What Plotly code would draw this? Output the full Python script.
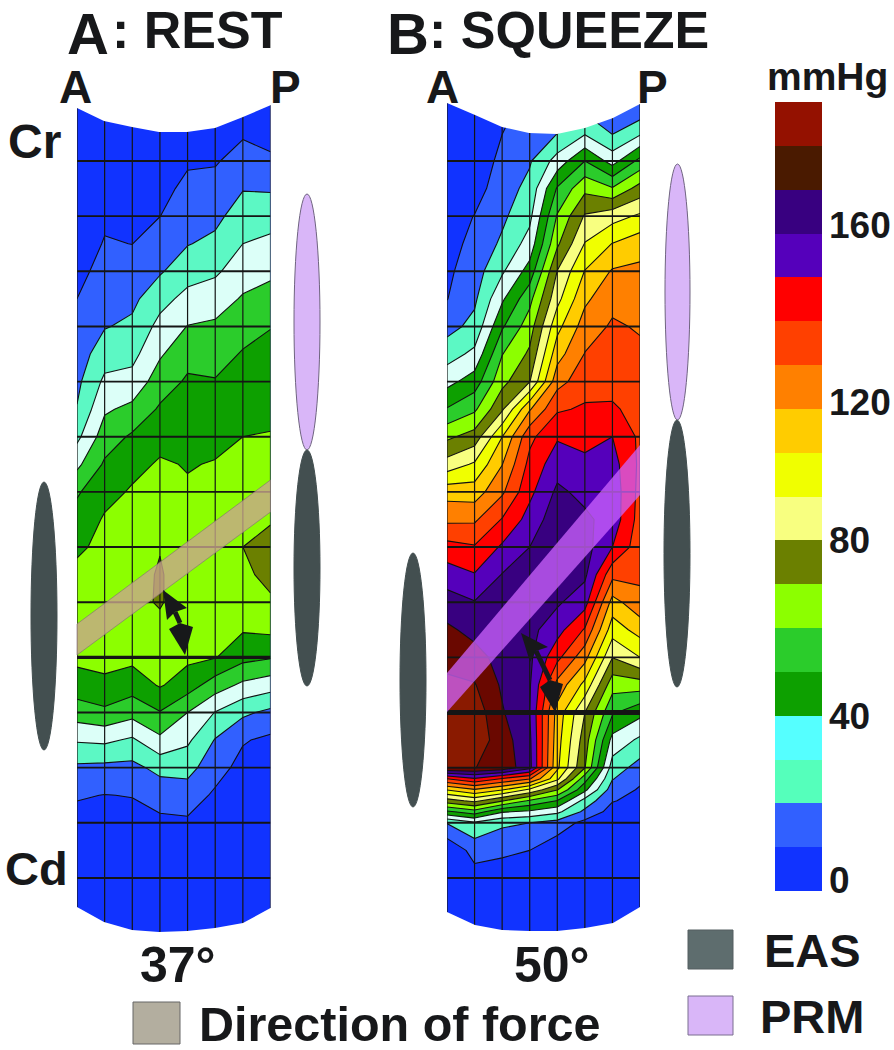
import plotly.graph_objects as go
import numpy as np

W, H = 894, 1050
FONT = "Liberation Sans"
INK = "#17181a"

# ---------- data ----------
columns = [0, 1, 2, 3, 4, 5, 6, 7]
grid_rows = list(range(14))
half_rows = [-1.1] + [i / 2 for i in range(-1, 23)]
rest_rows = half_rows + [11.5, 12, 12.5, 13, 13.5, 14]
squeeze_rows = half_rows + [11.2, 11.4, 11.6, 11.8, 12, 12.5, 13, 13.5, 14]

rest_by_col = [
    [3,3,3,3,4,5,7,10,12.5,15,17.7,20.5,27.5,37.7,48.8,53.8,58,63,65,65,62.5,55.4,45,31,18.2,10.8,7,5,3,3,3],
    [3,3,4,6,8.5,10.6,13.5,16.5,19.4,25.4,32,38.6,45,51.4,57,61,63,65,66,66,63,58,47.8,32,17.5,9.8,7,5,3,3,3],
    [3,3,4,5.5,7.5,9.9,13.7,17.7,22,27,33.5,42.5,51.5,57.4,61,63,65,66,67,66,62.5,54.5,43.5,28.5,17.2,10.3,7,5,3,3,3],
    [3,4,5.5,7.5,9.9,14.4,18.9,26.6,33,38.8,45,51.3,57.2,61,63,66,69.5,71,71,67,64,61,49.5,37.8,23,13.8,8,5,3,3,3],
    [6,7.5,9,12,15.7,19.5,26,33,40.3,46.7,51.4,54,56.8,59.5,61,62,63,64,64,64,62,55,40,31.8,23.6,14.8,8.5,6,3,3,3],
    [6,7.5,9.2,13,17.4,22.4,28.4,35.4,41.6,46.2,50.6,54,57.7,60.5,62,63,64,64,64,63,60.5,45,29.6,19.4,13.7,8.5,6,4,3,3,3],
    [7,9,13.5,19.5,25,30,35.5,41,46.3,50.8,54,57,60,63,65,67,70,67,65,60.8,53,38,22,10.8,7,5,3,3,3,3,3],
    [6,8,11,19,26,32.3,38,43.8,49.7,52.5,55.3,58,60.5,63,66,69,74,74,68,62,50.8,34.5,17.6,8,6,4,3,3,3,3,3],
]
squeeze_by_col = [
    [2,2,3,4,5,6,8,9.7,16.5,25.6,36.8,50.7,67.9,84.2,105.9,117.9,133.5,145,154.2,161.9,167,172,176,176,170.5,130,100.6,75.8,48,20.5,2,2,2,2],
    [2,3,4,6,10.3,13,15.5,18.2,22.9,32.4,44.8,58.2,74.3,91.4,104.9,118.4,130.9,140.6,150.5,156.9,163.7,170.7,176,176,170.2,139,109,82.6,55.5,28.4,13.6,6,4,3],
    [4,9.9,12.5,15.2,18,21.7,28.6,38.4,48.7,59.6,67,78.5,99.9,109.7,118.3,130.6,141.5,150.4,152.5,154.5,156.4,158.5,161,165,167,129.4,100.8,71,41,22,11.5,6,4,3],
    [14,16,19,23,27.5,34,44,57,65.3,71.8,79.6,109,127.5,133,137.5,144,150,154,155,153,152,151,150,152,153,121,88,58.6,38,20,10,6,4,3],
    [14,20,34,51,60.9,68.3,80.3,87,97,106,116.3,128.7,138.9,145.8,152,156,158,155,151.5,143.8,132.8,116.6,106,104,102,92.6,70.6,49.7,32.4,16,3,3,3,2],
    [14,29,50,67.5,81,90.5,100.4,108,114.6,120.4,125.8,131.3,137,142.2,147.3,152,154,152,144,129,113.4,97,80,75,70.5,54,42.5,26.2,17.7,7,4,3,3,2],
    [10,19.5,36,61,86,100.3,111,117,121.4,124.5,127.5,131,140,144,146,146,140,123,106.3,94.6,80.3,64,51.4,36.7,25.3,20.6,15,10.6,6,4,3,3,2,2],
    [8,28.4,53,74,91.7,105.6,112.3,116,119,122,125,127.5,128,128,127,126,124,122,117,104,90,65,43,28,16,12,9,7,6,5,4,3,2,2],
]
scale_bands = [5,15,25,35,45,55,65,75,85,95,105,115,125,135,145,155,165,175]
scale_colors = ["#1133ff","#3160ff","#55ffbb","#55ffff","#0da000","#2bcc2b","#8cff00","#6b8000",
                "#f8ff80","#f0ff00","#ffcc00","#ff8000","#ff4000","#ff0000","#5500bb","#380080","#4a1a00","#941100"]
squeeze_colors = ["#1133ff","#3160ff","#5cf8c4","#dcfff8","#0da000","#2bcc2b","#8cff00","#6b8000",
                  "#f8ff80","#f0ff00","#ffcc00","#ff8000","#ff4000","#ff0000","#5500bb","#380080","#6a0800","#8a1a00"]
rest_colors = list(squeeze_colors)
rest_colors[4], rest_colors[5] = "#2bcc2b", "#0da000"
scale_tick_pos = [0.25, 4.0, 8.0, 11.15, 15.2]
scale_tick_text = ["0", "40", "80", "120", "160"]

# ---------- helpers ----------
def px(x): return x / W
def py(y): return 1 - y / H
def rowpx(r): return 161 + 55.15 * r

def steps(colors):
    n = len(colors)
    out = []
    for i, c in enumerate(colors):
        out += [[i / n, c], [(i + 1) / n, c]]
    return out

def contour(zcols, rows, colors, xa, ya):
    return go.Contour(
        x=columns, y=rows, z=np.array(zcols).T.tolist(),
        xaxis=xa, yaxis=ya, colorscale=steps(colors), zmin=0, zmax=180,
        autocontour=False, contours=dict(start=0, end=180, size=10, coloring="fill", showlines=True),
        line=dict(color="#111111", width=1.1, smoothing=0), showscale=False, hoverinfo="skip",
    )

fig = go.Figure()
fig.add_trace(contour(rest_by_col, rest_rows, rest_colors, "x", "y"))
fig.add_trace(contour(squeeze_by_col, squeeze_rows, squeeze_colors, "x2", "y2"))
fig.add_trace(go.Heatmap(
    x=[0], y=list(range(18)), z=[[v] for v in scale_bands], xaxis="x3", yaxis="y3",
    colorscale=steps(scale_colors), zmin=0, zmax=180, showscale=False, hoverinfo="skip"))

shapes = []
def poly(pts, fill, line=None, lw=0):
    d = "M " + " L ".join(f"{px(a):.5f},{py(b):.5f}" for a, b in pts) + " Z"
    shapes.append(dict(type="path", path=d, xref="paper", yref="paper", fillcolor=fill, layer="above",
                       line=dict(color=line or "rgba(0,0,0,0)", width=lw)))
def ell(x0, x1, y0, y1, fill, line):
    shapes.append(dict(type="circle", xref="paper", yref="paper", x0=px(x0), x1=px(x1), y0=py(y1), y1=py(y0),
                       fillcolor=fill, line=dict(color=line, width=1), layer="above"))
def box(x0, x1, y0, y1, fill, line):
    shapes.append(dict(type="rect", xref="paper", yref="paper", x0=px(x0), x1=px(x1), y0=py(y1), y1=py(y0),
                       fillcolor=fill, line=dict(color=line, width=1), layer="above"))
def seg(x0, y0, x1, y1, w, color="#111111"):
    shapes.append(dict(type="line", xref="paper", yref="paper", x0=px(x0), y0=py(y0), x1=px(x1), y1=py(y1),
                       line=dict(color=color, width=w), layer="above"))

def grid(xa, ya, heavy, heavy_w, w):
    for c in columns:
        shapes.append(dict(type="line", xref=xa, yref=ya, x0=c, x1=c, y0=-1.1, y1=14,
                           line=dict(color="#151515", width=1.2), layer="above"))
    for r in grid_rows:
        shapes.append(dict(type="line", xref=xa, yref=ya, x0=0, x1=7, y0=r, y1=r,
                           line=dict(color="#151515", width=heavy_w if r == heavy else w), layer="above"))
grid("x", "y", 9, 3.2, 1.9)
grid("x2", "y2", 10, 5, 1.9)

# curved white ends of the two maps
poly([(70,90),(70,108),(77,108),(104,121),(132,127),(159,132),(187,132),(215,128),(243,117),(271,105),(278,105),(278,90)], "white")
poly([(70,945),(70,907),(77,907),(104,922),(132,930),(159,932),(187,931),(215,928),(243,923),(270.5,908),(278,908),(278,945)], "white")
poly([(440,90),(440,103),(447,103),(475,115),(502,127),(529,133),(557,134),(585,128),(613,118),(640,104),(647,104),(647,90)], "white")
poly([(440,945),(440,912),(447,912),(475,925),(502,930),(529,931),(557,931),(585,928),(613,923),(640,907),(647,907),(647,945)], "white")

# direction of force bands
poly([(77,624),(270.5,480),(270.5,512),(77,655)], "rgba(200,165,140,0.8)", "rgba(130,110,120,0.8)", 0.8)
poly([(447,673),(640,445),(640,495),(447,712)], "rgba(205,100,255,0.75)")

# double arrows
for (a, b, c, d, e, f, g, h) in [
    ((163,590),(187,608),(175,612),(167,620),(185,655),(169,629),(193,627),(180,623)),
    ((521,633),(548,647),(536,651),(530,662),(555,712),(540,687),(563,684),(550,680)),
]:
    poly([a, b, c, d], "#17181a")
    poly([e, f, h, g], "#17181a")
    seg(c[0], c[1], h[0], h[1], 5, "#17181a")

# sphincter ellipses
ell(294, 320, 194, 450, "#d9b6f8", "#6f6480")
ell(294, 320, 450, 686, "#434f50", "#434f50")
ell(31, 57, 482, 750, "#434f50", "#434f50")
ell(665, 690, 164, 420, "#d9b6f8", "#6f6480")
ell(664, 690, 420, 687, "#434f50", "#434f50")
ell(400, 426, 553, 807, "#434f50", "#434f50")

# legend boxes
box(688, 733, 930, 969, "#5e6d6e", "#555f60")
box(688, 733, 996, 1035, "#d9b6f8", "#7a6f90")
box(133, 180, 1002, 1044, "#b3ae9f", "#666666")

notes = []
def label(text, x, y, size, anchor="left"):
    notes.append(dict(text=f"<b>{text}</b>", x=px(x), y=py(y), xref="paper", yref="paper", showarrow=False,
                      xanchor=anchor, yanchor="middle", xshift=0, font=dict(family=FONT, size=size, color=INK)))

label("A", 65, 33.5, 58)
label(": REST", 110, 30, 52)
label("B", 385, 33.5, 58)
label(": SQUEEZE", 427, 30, 52)
label("A", 57, 87, 46)
label("P", 268, 87, 46)
label("A", 424, 87, 46)
label("P", 635, 87, 46)
label("Cr", 6, 141, 48)
label("Cd", 3, 868, 47)
label("37°", 138, 965, 50)
label("50°", 512, 965, 50)
label("Direction of force", 197, 1024, 48.5)
label("mmHg", 765, 76, 39)
label("EAS", 762, 950, 47)
label("PRM", 758, 1016, 47)

hidden = dict(visible=False, showgrid=False, zeroline=False, automargin=False)
fig.update_layout(
    width=W, height=H, margin=dict(l=0, r=0, t=0, b=0, pad=0, autoexpand=False),
    paper_bgcolor="white", plot_bgcolor="white", showlegend=False,
    shapes=shapes, annotations=notes,
    xaxis=dict(domain=[px(77), px(270.5)], range=[0, 7], anchor="y", **hidden),
    yaxis=dict(domain=[py(rowpx(14.2)), py(rowpx(-1.2))], range=[14.2, -1.2], anchor="x", **hidden),
    xaxis2=dict(domain=[px(447), px(640)], range=[0, 7], anchor="y2", **hidden),
    yaxis2=dict(domain=[py(rowpx(14.2)), py(rowpx(-1.2))], range=[14.2, -1.2], anchor="x2", **hidden),
    xaxis3=dict(domain=[px(775), px(822)], range=[-0.5, 0.5], anchor="y3", **hidden),
    yaxis3=dict(domain=[py(891), py(102)], range=[-0.5, 17.5], anchor="x3", side="right", showgrid=False, zeroline=False,
                automargin=False,
                tickvals=[v - 0.5 for v in scale_tick_pos], ticktext=[f"<b>{t}</b>" for t in scale_tick_text],
                ticks="", ticklabelstandoff=6, showline=False,
                tickfont=dict(family=FONT, size=37, color=INK)),
)
fig.write_html("out.html", config=dict(displayModeBar=False), post_script="document.body.style.margin='0';")
